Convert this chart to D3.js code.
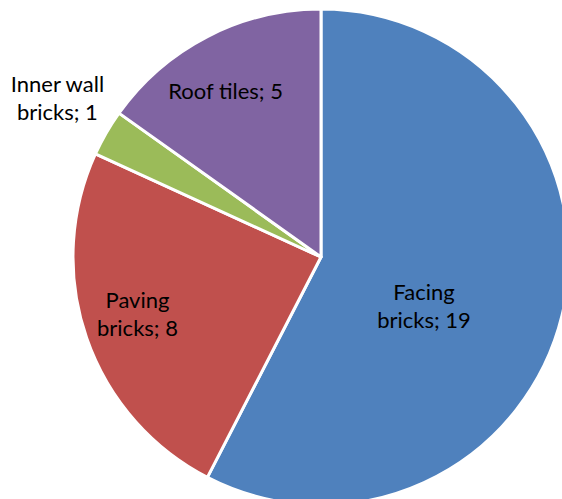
<!DOCTYPE html>
<html>
<head>
<meta charset="utf-8">
<script src="https://cdn.jsdelivr.net/npm/d3@7"></script>
<style>
  html, body { margin: 0; padding: 0; background: #fff; }
  svg { display: block; }
</style>
</head>
<body>
<svg id="chart" width="562" height="499"></svg>
<script>
// Product mix (count per product type)
const categories = ["Facing bricks", "Paving bricks", "Inner wall bricks", "Roof tiles"];
const values = [19, 8, 1, 5];
const colors = ["#4F81BD", "#C0504D", "#9BBB59", "#8064A2"];

const width = 562, height = 499;
const cx = 321, cy = 257, radius = 248;

const svg = d3.select("#chart");
const g = svg.append("g").attr("transform", `translate(${cx},${cy})`);

const data = categories.map((c, i) => ({ name: c, value: values[i], color: colors[i] }));

const pie = d3.pie().value(d => d.value).sort(null);
const arc = d3.arc().innerRadius(0).outerRadius(radius);
const arcs = pie(data);

g.selectAll("path.slice")
  .data(arcs)
  .join("path")
  .attr("class", "slice")
  .attr("d", arc)
  .attr("fill", d => d.data.color)
  .attr("stroke", "#fff")
  .attr("stroke-width", 3)
  .attr("stroke-linejoin", "round");

// Label placement: distance (fraction of radius) and angular nudge (degrees), per slice
const labelLayout = {
  "Facing bricks":     { r: 0.46, da: 11.8, lines: ["Facing", "bricks; 19"] },
  "Paving bricks":     { r: 0.775, da: 1.8, lines: ["Paving", "bricks; 8"] },
  "Inner wall bricks": { r: 1.24, da: 1.0, lines: ["Inner wall", "bricks; 1"] },
  "Roof tiles":        { r: 0.77, da: -2.7, lines: ["Roof tiles; 5"] }
};

const lineH = 28;
arcs.forEach(d => {
  const L = labelLayout[d.data.name];
  const a = (d.startAngle + d.endAngle) / 2 + L.da * Math.PI / 180;
  const x = Math.sin(a) * radius * L.r;
  const y = -Math.cos(a) * radius * L.r;
  const t = g.append("text")
    .attr("text-anchor", "middle")
    .attr("font-family", "Lato, 'Open Sans', sans-serif")
    .attr("font-size", 22)
    .attr("fill", "#000");
  const n = L.lines.length;
  L.lines.forEach((s, i) => {
    t.append("tspan")
      .attr("x", x)
      .attr("y", y + (i - (n - 1) / 2) * lineH)
      .attr("dy", "0.35em")
      .text(s);
  });
});
</script>
</body>
</html>
